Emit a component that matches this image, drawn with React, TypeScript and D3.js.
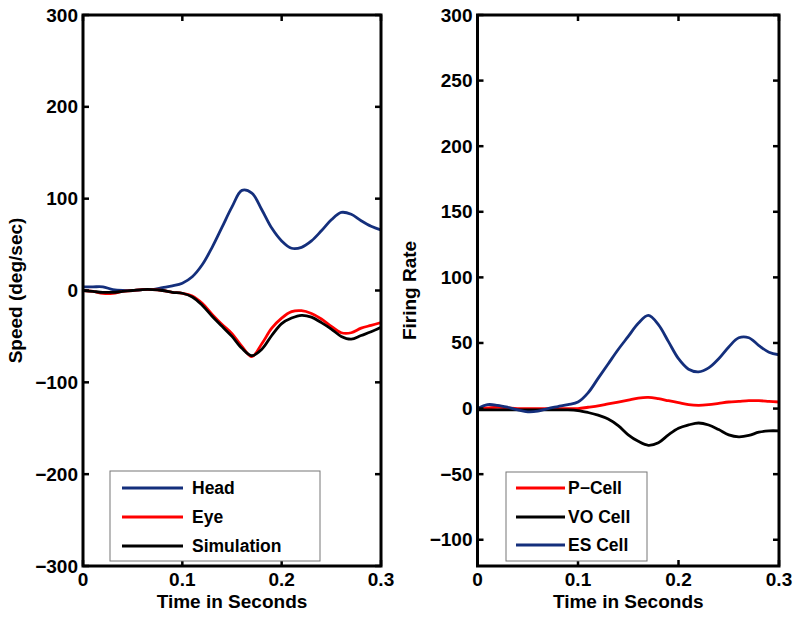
import React from "react";
import * as d3 from "d3";

const times = [0, 0.01, 0.02, 0.03, 0.04, 0.05, 0.06, 0.07, 0.08, 0.09, 0.1, 0.11, 0.12, 0.13, 0.14, 0.15, 0.16, 0.17, 0.18, 0.19, 0.2, 0.21, 0.22, 0.23, 0.24, 0.25, 0.26, 0.27, 0.28, 0.29, 0.3];

const head = [4, 4, 4, 1, 0, 0, 1, 1, 3, 5, 8, 15, 28, 47, 69, 91, 109, 106, 88, 68, 54, 46, 47, 54, 65, 77, 85, 83, 76, 70, 66];
const eye = [0, -1, -3, -3, -1, 0, 1, 1, 0, -2, -3, -6, -14, -26, -37, -47, -61, -72, -58, -41, -30, -23, -22, -25, -31, -39, -46, -46, -41, -38, -35];
const simulation = [0, -1, -2, -2, -1, 0, 1, 1, 0, -2, -3, -7, -16, -28, -39, -50, -63, -71, -64, -49, -36, -30, -27, -29, -35, -42, -50, -53, -49, -45, -40];

const pCell = [0, 0.5, 1, 0.5, 0, 0, 0, 0, 0, 0, 0, 1, 2, 3.5, 5, 6.5, 8, 8.5, 7.5, 6, 4.5, 3, 2.5, 3, 4, 5, 5.5, 6, 6, 5.5, 5];
const voCell = [-1, -1, -1, -1, -1, -1, -1, -1, -1, -1, -1.5, -3, -5, -8, -13, -20, -25, -28, -26, -20, -15, -12.5, -11, -12.5, -16, -20, -21.5, -20.5, -18, -17, -17];
const esCell = [0, 3, 2.5, 1, -1, -2.5, -2, 0, 1.5, 3, 5, 12, 23, 34, 45, 55, 65, 71, 64, 51, 38, 30, 28, 31, 38, 47, 54, 54, 48, 43, 41];

const xTicks = [0, 0.1, 0.2, 0.3];
const xTickLabels = ["0", "0.1", "0.2", "0.3"];
const leftYTicks = [-300, -200, -100, 0, 100, 200, 300];
const rightYTicks = [-100, -50, 0, 50, 100, 150, 200, 250, 300];

const BLUE = "#142f7c";
const RED = "#ff0000";
const BLACK = "#000000";
const FONT = "'Liberation Sans', Arial, Helvetica, sans-serif";

type Series = { name: string; values: number[]; color: string };

const leftSeries: Series[] = [
  { name: "Head", values: head, color: BLUE },
  { name: "Eye", values: eye, color: RED },
  { name: "Simulation", values: simulation, color: BLACK },
];
const rightSeries: Series[] = [
  { name: "P\u2212Cell", values: pCell, color: RED },
  { name: "VO Cell", values: voCell, color: BLACK },
  { name: "ES Cell", values: esCell, color: BLUE },
];

const fmtY = (v: number) => (v < 0 ? "\u2212" + Math.abs(v) : String(v));

function Panel(props: {
  id: string;
  x0: number; x1: number; y0: number; y1: number;
  yDomain: [number, number];
  yTicks: number[];
  yLabel: string;
  yLabelX: number;
  series: Series[];
  legend: { x: number; y: number; w: number; h: number; lx0: number; lx1: number; tx: number; rows: number[] };
}) {
  const { id, x0, x1, y0, y1, yDomain, yTicks, yLabel, yLabelX, series, legend } = props;
  const x = d3.scaleLinear().domain([0, 0.3]).range([x0, x1]);
  const y = d3.scaleLinear().domain(yDomain).range([y1, y0]);
  const line = (vals: number[]) =>
    d3.line<number>().x((_, i) => x(times[i])).y((d) => y(d)).curve(d3.curveCatmullRom.alpha(0.5))(vals) || "";
  const tl = 6;
  return (
    <g>
      <defs>
        <clipPath id={id}>
          <rect x={x0} y={y0} width={x1 - x0} height={y1 - y0} />
        </clipPath>
      </defs>
      <g clipPath={`url(#${id})`}>
        {series.map((s) => (
          <path key={s.name} d={line(s.values)} fill="none" stroke={s.color} strokeWidth={2.8} strokeLinejoin="round" />
        ))}
      </g>
      {xTicks.map((t, i) => (
        <g key={"xt" + i}>
          <line x1={x(t)} x2={x(t)} y1={y1} y2={y1 - tl} stroke="#000" strokeWidth={2.5} />
          <line x1={x(t)} x2={x(t)} y1={y0} y2={y0 + tl} stroke="#000" strokeWidth={2.5} />
          <text x={x(t)} y={y1 + 20} textAnchor="middle" fontFamily={FONT} fontWeight="bold" fontSize={19}>
            {xTickLabels[i]}
          </text>
        </g>
      ))}
      {yTicks.map((t, i) => (
        <g key={"yt" + i}>
          <line x1={x0} x2={x0 + tl} y1={y(t)} y2={y(t)} stroke="#000" strokeWidth={2.5} />
          <line x1={x1} x2={x1 - tl} y1={y(t)} y2={y(t)} stroke="#000" strokeWidth={2.5} />
          <text x={x0 - 5} y={y(t) + 6.5} textAnchor="end" fontFamily={FONT} fontWeight="bold" fontSize={19}>
            {fmtY(t)}
          </text>
        </g>
      ))}
      <rect x={x0} y={y0} width={x1 - x0} height={y1 - y0} fill="none" stroke="#000" strokeWidth={3} />
      <text x={(x0 + x1) / 2} y={y1 + 42} textAnchor="middle" fontFamily={FONT} fontWeight="bold" fontSize={19}>
        Time in Seconds
      </text>
      <text
        transform={`translate(${yLabelX},${(y0 + y1) / 2}) rotate(-90)`}
        textAnchor="middle"
        fontFamily={FONT}
        fontWeight="bold"
        fontSize={19}
      >
        {yLabel}
      </text>
      <rect x={legend.x} y={legend.y} width={legend.w} height={legend.h} fill="#fff" stroke="#777" strokeWidth={1} />
      {series.map((s, i) => (
        <g key={"lg" + i}>
          <line x1={legend.lx0} x2={legend.lx1} y1={legend.rows[i]} y2={legend.rows[i]} stroke={s.color} strokeWidth={2.8} />
          <text x={legend.tx} y={legend.rows[i] + 6} fontFamily={FONT} fontWeight="bold" fontSize={17.5}>
            {s.name}
          </text>
        </g>
      ))}
    </g>
  );
}

export default function App() {
  return (
    <svg width={800} height={617} style={{ position: "absolute", left: 0, top: 0, background: "#fff" }}>
      <rect x={0} y={0} width={800} height={617} fill="#fff" />
      <Panel
        id="clipL"
        x0={83} x1={381} y0={15} y1={566}
        yDomain={[-300, 300]}
        yTicks={leftYTicks}
        yLabel="Speed (deg/sec)"
        yLabelX={22}
        series={leftSeries}
        legend={{ x: 110, y: 471, w: 210, h: 90, lx0: 122, lx1: 183, tx: 192, rows: [488, 517, 546] }}
      />
      <Panel
        id="clipR"
        x0={477.5} x1={779} y0={15} y1={566}
        yDomain={[-120, 300]}
        yTicks={rightYTicks}
        yLabel="Firing Rate"
        yLabelX={416}
        series={rightSeries}
        legend={{ x: 506, y: 472, w: 141, h: 89, lx0: 516, lx1: 565, tx: 568, rows: [488, 517, 545] }}
      />
    </svg>
  );
}
